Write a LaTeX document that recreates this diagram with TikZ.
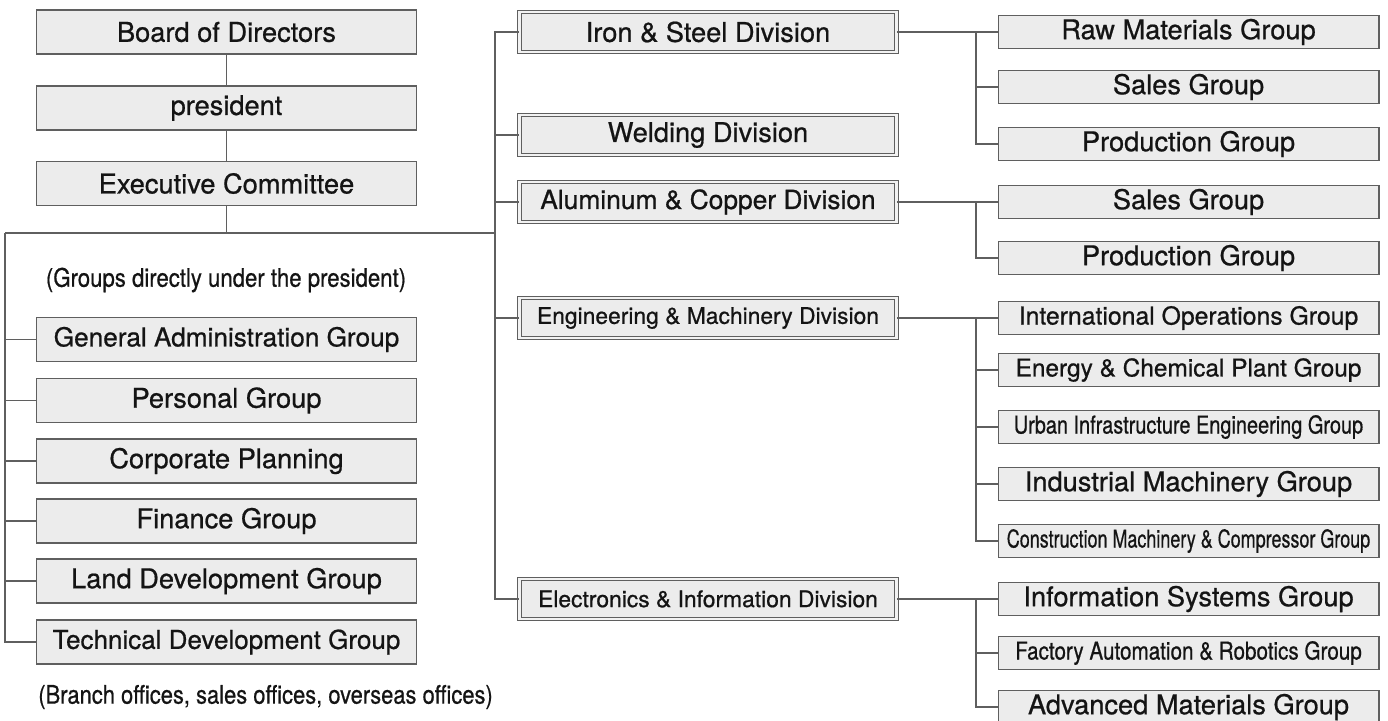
\documentclass[tikz,border=0pt]{standalone}
\usepackage{fontspec}
\setmainfont{TeX Gyre Heros}[FakeBold=0.7]
\usepackage{graphicx}
\definecolor{boxgray}{RGB}{236, 236, 236}
\definecolor{linegray}{RGB}{95, 95, 95}
\definecolor{inkblack}{RGB}{20, 20, 20}
\usepackage{tikz}
\usetikzlibrary{positioning, calc}

\begin{document}
\begin{tikzpicture}[x=0.02cm, y=-0.02cm,
    orgbox/.style={draw=linegray, fill=boxgray, line width=0.6pt, minimum width=7.62cm, minimum height=0.88cm, inner sep=0pt, text=inkblack, font=\fontsize{15.5}{18}\selectfont},
    divbox/.style={draw=linegray, double=boxgray!70, double distance=1.5pt, line width=0.55pt, fill=boxgray, minimum width=7.55cm, minimum height=0.8cm, inner sep=0pt, text=inkblack, font=\fontsize{15.5}{18}\selectfont},
    grpbox/.style={draw=linegray, fill=boxgray, line width=0.6pt, minimum width=7.62cm, minimum height=0.66cm, inner sep=0pt, text=inkblack, font=\fontsize{15.5}{18}\selectfont},
    conn/.style={draw=linegray, line width=0.7pt},
    note/.style={text=inkblack, inner sep=0pt, font=\fontsize{14.5}{17}\selectfont}]
  \useasboundingbox (0,0) rectangle (1388,720);

  % Top of the company
  \node[orgbox] (bod) at (226.5, 32) {Board of Directors};
  \node[orgbox] (pres) at (226.5, 108) {president};
  \node[orgbox] (exec) at (226.5, 183.5) {Executive Committee};

  % Groups directly under the president
  \node[note] (gnote) at (226, 280) {\scalebox{0.87}[1]{(Groups directly under the president)}};
  \node[orgbox, font=\fontsize{14.9}{18}\selectfont] (ga) at (226.5, 339.5) {General Administration Group};
  \node[orgbox] (pers) at (226.5, 400.5) {Personal Group};
  \node[orgbox] (corp) at (226.5, 461) {Corporate Planning};
  \node[orgbox] (fin) at (226.5, 521) {Finance Group};
  \node[orgbox] (land) at (226.5, 581) {Land Development Group};
  \node[orgbox, font=\fontsize{14.8}{18}\selectfont] (tech) at (226.5, 642) {Technical Development Group};
  \node[note, anchor=west] (bnote) at (38, 697) {\scalebox{0.86}[1]{(Branch offices, sales offices, overseas offices)}};

  % Divisions
  \node[divbox] (iron) at (708, 32) {Iron \& Steel Division};
  \node[divbox] (weld) at (708, 135) {Welding Division};
  \node[divbox, font=\fontsize{15}{18}\selectfont] (alu) at (708, 202) {Aluminum \& Copper Division};
  \node[divbox, font=\fontsize{13}{16}\selectfont] (eng) at (708, 318) {Engineering \& Machinery Division};
  \node[divbox, font=\fontsize{13}{16}\selectfont] (elec) at (708, 599) {Electronics \& Information Division};

  % Groups of the divisions
  \node[grpbox] (raw) at (1188.5, 32) {Raw Materials Group};
  \node[grpbox] (sales1) at (1188.5, 87) {Sales Group};
  \node[grpbox] (prod1) at (1188.5, 144) {Production Group};
  \node[grpbox] (sales2) at (1188.5, 202) {Sales Group};
  \node[grpbox] (prod2) at (1188.5, 258) {Production Group};
  \node[grpbox, font=\fontsize{14.1}{17}\selectfont] (intl) at (1188.5, 318) {International Operations Group};
  \node[grpbox, font=\fontsize{13.9}{17}\selectfont] (energy) at (1188.5, 370) {Energy \& Chemical Plant Group};
  \node[grpbox, font=\fontsize{14}{17}\selectfont] (urban) at (1188.5, 427) {\scalebox{0.81}[1]{Urban Infrastructure Engineering Group}};
  \node[grpbox] (indm) at (1188.5, 484) {Industrial Machinery Group};
  \node[grpbox, font=\fontsize{14}{17}\selectfont] (cons) at (1188.5, 541) {\scalebox{0.73}[1]{Construction Machinery \& Compressor Group}};
  \node[grpbox] (info) at (1188.5, 599) {Information Systems Group};
  \node[grpbox, font=\fontsize{14}{17}\selectfont] (fa) at (1188.5, 653) {\scalebox{0.84}[1]{Factory Automation \& Robotics Group}};
  \node[grpbox] (adv) at (1188.5, 707) {Advanced Materials Group};

  % Lines of the left column
  \coordinate (trunkL) at (5, 233);
  \coordinate (trunkR) at (495, 233);
  \coordinate (rbus) at (976, 0);
  \draw[conn] (bod) -- (pres);
  \draw[conn] (pres) -- (exec);
  \draw[conn] (exec.south) -- (exec.south |- trunkL);
  \draw[conn] (trunkL) -- (trunkR);
  \draw[conn] (trunkL) |- (tech.west);
  \foreach \g in {ga, pers, corp, fin, land}
    \draw[conn] (trunkL |- \g.west) -- (\g.west);

  % Lines to the divisions
  \draw[conn] (iron.west) -- (iron.west -| trunkR) -- (elec.west -| trunkR) -- (elec.west);
  \foreach \d in {weld, alu, eng}
    \draw[conn] (trunkR |- \d.west) -- (\d.west);

  % Lines to the groups of the divisions
  \draw[conn] (iron.east) -- (raw.west);
  \draw[conn] (rbus |- raw.west) |- (prod1.west);
  \draw[conn] (rbus |- sales1.west) -- (sales1.west);
  \draw[conn] (alu.east) -- (sales2.west);
  \draw[conn] (rbus |- sales2.west) |- (prod2.west);
  \draw[conn] (eng.east) -- (intl.west);
  \draw[conn] (rbus |- intl.west) |- (cons.west);
  \foreach \g in {energy, urban, indm}
    \draw[conn] (rbus |- \g.west) -- (\g.west);
  \draw[conn] (elec.east) -- (info.west);
  \draw[conn] (rbus |- info.west) |- (adv.west);
  \draw[conn] (rbus |- fa.west) -- (fa.west);
\end{tikzpicture}
\end{document}
